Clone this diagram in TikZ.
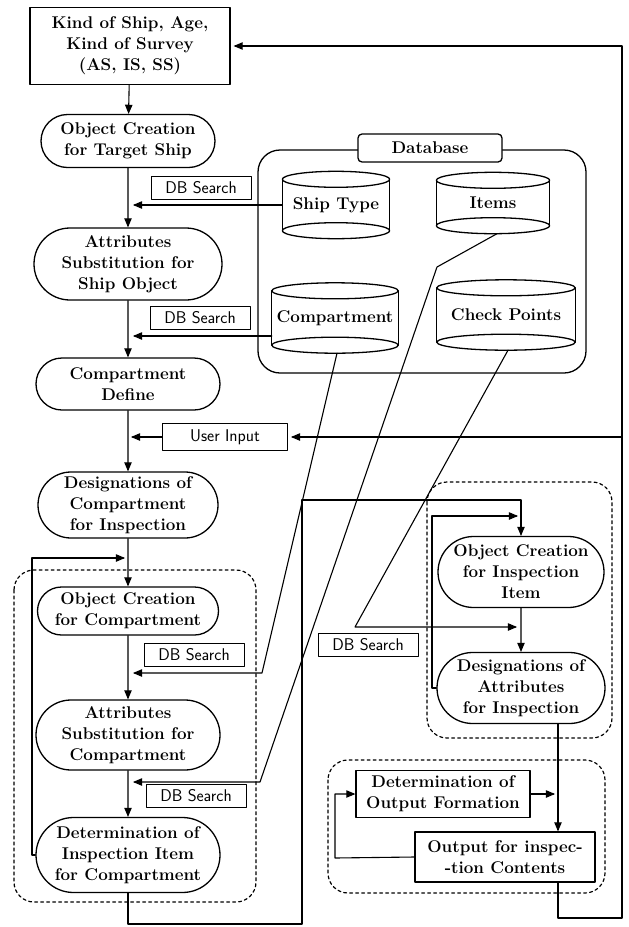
\documentclass[tikz,border=0pt]{standalone}
\usepackage{pgf,tikz}
\usetikzlibrary{calc}
\usetikzlibrary{arrows}
\usetikzlibrary{shapes.misc}
\usepackage{amsmath}
\begin{document}
\begin{tikzpicture}[line cap=round,line join=round,>=triangle 45,x=1pt,y=-1pt,
  proc/.style={draw,line width=1.3pt,rounded rectangle,align=center,inner sep=1pt,font=\fontsize{17}{21}\selectfont\bfseries},
  blk/.style={draw,line width=1.3pt,rectangle,align=center,inner sep=1pt,font=\fontsize{17}{21}\selectfont\bfseries},
  dbtag/.style={draw,line width=1pt,rectangle,inner sep=2pt,minimum width=100pt,minimum height=23pt,font=\fontsize{17}{19}\selectfont\sffamily},
  dbcyl/.style={rectangle,inner sep=0pt,font=\fontsize{17}{21}\selectfont\bfseries},
  grp/.style={dash pattern=on 3pt off 3pt,line width=1.2pt,rounded corners=20pt},
  flow/.style={line width=1.1pt}]
\useasboundingbox (0,0) rectangle (629,927);
%\draw [help lines,step=50] (0,0) grid (629,927);
% left column
\node[blk,minimum width=200pt,minimum height=77pt] (kind) at (130,46) {Kind of Ship, Age,\\Kind of Survey\\(AS, IS, SS)};
\node[proc,minimum width=176pt,minimum height=53pt] (objship) at (128,141) {Object Creation\\for Target Ship};
\node[proc,minimum width=190pt,minimum height=72pt] (attrship) at (128,264) {Attributes\\Substitution for\\Ship Object};
\node[proc,minimum width=186pt,minimum height=52pt] (compdef) at (128,384) {Compartment\\Define};
\node[proc,minimum width=182pt,minimum height=66pt] (desigcomp) at (128,505) {Designations of\\Compartment\\for Inspection};
\node[proc,minimum width=183pt,minimum height=48pt] (objcomp) at (128,611) {Object Creation\\for Compartment};
\node[proc,minimum width=186pt,minimum height=70pt] (attrcomp) at (128,735) {Attributes\\Substitution for\\Compartment};
\node[proc,minimum width=186pt,minimum height=75pt] (detitem) at (128,855) {Determination of\\Inspection Item\\for Compartment};
% right column
\node[proc,minimum width=168pt,minimum height=71pt] (objitem) at (521,572) {Object Creation\\for Inspection\\Item};
\node[proc,minimum width=170pt,minimum height=71pt] (desigattr) at (521,688) {Designations of\\Attributes\\for Inspection};
\node[blk,minimum width=174pt,minimum height=47pt] (detout) at (443,794) {Determination of\\Output Formation};
\node[blk,minimum width=180pt,minimum height=50pt] (output) at (505,857) {Output for inspec-\\-tion Contents};
% database
\draw[line width=1.3pt,rounded corners=22pt] (258,150) rectangle (586,373);
\node[blk,rounded corners=4pt,fill=white,minimum width=144pt,minimum height=28pt] (db) at (430,148) {Database};
\node[dbcyl,minimum width=107pt,minimum height=51pt] (shiptype) at (336,205) {Ship Type};
\node[dbcyl,minimum width=113pt,minimum height=45pt] (items) at (493,203) {Items};
\node[dbcyl,minimum width=126pt,minimum height=54pt] (compart) at (335,318) {Compartment};
\node[dbcyl,minimum width=138pt,minimum height=54pt] (checkpts) at (506,315) {Check Points};
\foreach \c in {shiptype,items,compart,checkpts}{
  \draw[line width=1.3pt] (\c.north west) -- (\c.south west) (\c.north east) -- (\c.south east);
  \draw[line width=1.3pt] let \p1=($(\c.north east)-(\c.north)$) in
    (\c.north) ellipse [x radius=\x1,y radius=8pt] (\c.south) ellipse [x radius=\x1,y radius=8pt];
}
% labels on the search lines
\node[dbtag] (dbs1) at (201,188) {DB Search};
\node[dbtag] (dbs2) at (200,318) {DB Search};
\node[dbtag] (dbs3) at (194,655) {DB Search};
\node[dbtag] (dbs4) at (196,796) {DB Search};
\node[dbtag] (dbs5) at (368,645) {DB Search};
\node[dbtag,minimum width=125pt,minimum height=27pt] (input) at (225,437) {User Input};
% groups
\draw[grp] (14,570) rectangle (256,902);
\draw[grp] (427,482) rectangle (612,738);
\draw[grp] (328,760) rectangle (605,893);
% main flow
\draw[flow,->] (kind) -- (objship);
\draw[flow,->] (objship) -- (attrship);
\draw[flow,->] (attrship) -- (compdef);
\draw[flow,->] (compdef) -- (desigcomp);
\draw[flow,->] (desigcomp) -- (objcomp);
\draw[flow,->] (objcomp) -- (attrcomp);
\draw[flow,->] (attrcomp) -- (detitem);
\draw[flow,->] (objitem) -- (desigattr);
% searches
\draw[flow,->,shorten >=5pt] (shiptype.west) -- (shiptype.west -| objship.south);
\coordinate (cw) at ($(compart.west)+(0,18)$);
\draw[flow,->,shorten >=5pt] (cw) -- (cw -| attrship.south);
\coordinate (ja) at (262,673);
\draw[flow,->,shorten >=5pt] ($(compart.south)+(2,8)$) -- (ja) -- (ja -| objcomp.south);
\coordinate (jb1) at (437,267);
\coordinate (jb2) at (260,782);
\draw[flow,->,shorten >=5pt] ($(items.south)+(4,8)$) -- (jb1) -- (jb2) -- (jb2 -| attrcomp.south);
\coordinate (jc) at (355,627);
\draw[flow,->,shorten >=4pt] ($(checkpts.south)+(2,8)$) -- (jc) -- (jc -| objitem.south);
% loops
\coordinate (ll) at (32,558);
\draw[flow,->,shorten >=3pt] (detitem.west) -- (detitem.west -| ll) -- (ll) -- (ll -| objcomp.north);
\coordinate (bl) at (302,924);
\coordinate (tl) at (302,500);
\draw[flow,->] (detitem.south) -- (detitem.south |- bl) -- (bl) -- (tl) -- (tl -| objitem.north) -- (objitem.north);
\coordinate (rl) at (432,516);
\draw[flow,->,shorten >=3pt] (desigattr.west) -- (desigattr.west -| rl) -- (rl) -- (rl -| objitem.north);
% output
\coordinate (ds) at ([xshift=37pt]desigattr.south);
\draw[flow,->] (ds) -- (ds |- output.north);
\draw[flow,->,shorten >=3pt] (detout.east) -- (detout.east -| ds);
\coordinate (ol) at (335,858);
\draw[flow,->] (output.west) -- (ol) -- (ol |- detout.west) -- (detout.west);
% feedback
\coordinate (ob) at ([xshift=53pt]output.south);
\coordinate (fb) at (622,918);
\draw[flow,->,shorten >=3pt] (ob) -- (ob |- fb) -- (fb) -- (fb |- kind.east) -- (kind.east);
\draw[flow,->,shorten >=3pt] (fb |- input.east) -- (input.east);
\draw[flow,->,shorten >=3pt] (input.west) -- (input.west -| compdef.south);
\end{tikzpicture}
\end{document}
